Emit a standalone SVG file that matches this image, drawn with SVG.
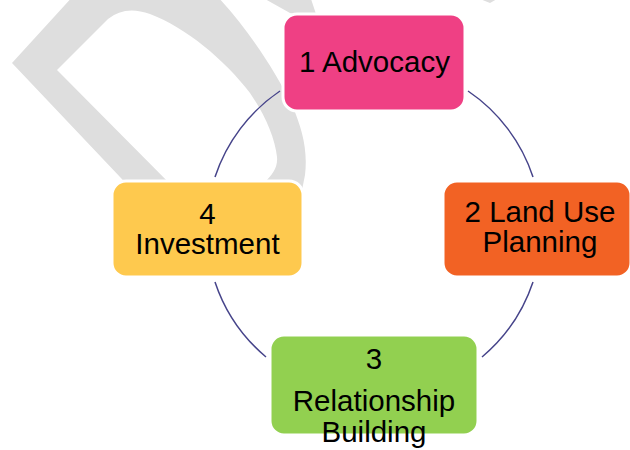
<svg xmlns="http://www.w3.org/2000/svg" width="630" height="450" viewBox="0 0 630 450">
<style>
.wm{fill:#dedede;}
.box{stroke:#ffffff;stroke-width:3;}
.lbl{font-family:"Liberation Sans",Arial,sans-serif;font-size:29.5px;fill:#000000;text-anchor:middle;}
.arc{fill:none;stroke:#46448a;stroke-width:1.5;}
</style>
<rect width="630" height="450" fill="#ffffff"/>
<g id="watermark">
<path class="wm" fill-rule="evenodd" d="M12 63 L75 -6 L215 -6 C245 25 275 70 292 105 C302 128 308 150 305 175 L300 200 L156 215 Z M57 70 L108 19 Q125 5 150 14 C185 27 225 60 250 93 C265 115 275 138 277 157 C278 168 272 175 265 182 L186 200 Z"/>
<path class="wm" d="M265 -1 L311 -1 L318 20 L290 13 Z"/>
<path class="wm" d="M480 -1 L497 -1 L490 3 Z"/>
</g>
<g id="connectors">
<path class="arc" d="M468 91 A167 167 0 0 1 533 177"/>
<path class="arc" d="M533 282 A167 167 0 0 1 482 357"/>
<path class="arc" d="M266 357 A167 167 0 0 1 215 282"/>
<path class="arc" d="M215 177 A167 167 0 0 1 280 91"/>
</g>
<g id="node1">
<rect class="box" x="283" y="14" width="182" height="97" rx="14" fill="#ef4084"/>
<text class="lbl" x="374.5" y="72">1 Advocacy</text>
</g>
<g id="node2">
<rect class="box" x="443" y="181" width="188" height="96" rx="14" fill="#f26224"/>
<text class="lbl" x="540" y="222">2 Land Use</text>
<text class="lbl" x="540" y="252">Planning</text>
</g>
<g id="node3">
<rect class="box" x="270" y="335" width="208" height="100" rx="14" fill="#92d050"/>
<text class="lbl" x="374" y="369">3</text>
<text class="lbl" x="374" y="411">Relationship</text>
<text class="lbl" x="374" y="442">Building</text>
</g>
<g id="node4">
<rect class="box" x="112" y="181" width="191" height="96" rx="14" fill="#fec94e"/>
<text class="lbl" x="207.5" y="224">4</text>
<text class="lbl" x="207.5" y="253.5">Investment</text>
</g>
</svg>
